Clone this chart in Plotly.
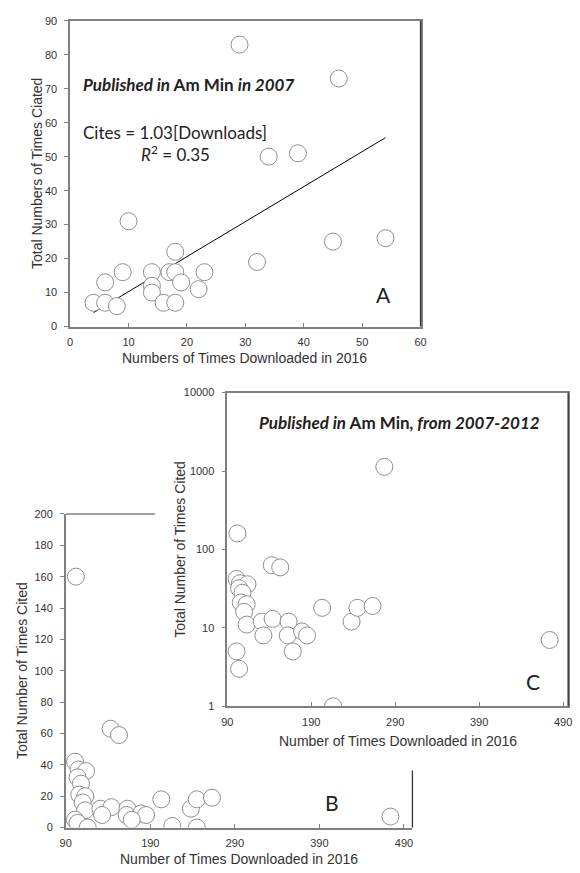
import plotly.graph_objects as go

# ---------- Data ----------
# Panel A: published in Am Min in 2007
dl_2007 = [29, 46, 34, 39, 10, 18, 32, 45, 54, 9, 14, 17, 18, 23, 6, 14, 14, 19, 22, 4, 6, 8, 16, 18]
cites_2007 = [83, 73, 50, 51, 31, 22, 19, 25, 26, 16, 16, 16, 16, 16, 13, 12, 10, 13, 11, 7, 7, 6, 7, 7]
trend_x = [4, 54]
trend_y = [4.1, 55.6]

# Panels B and C: published in Am Min 2007-2012 (downloads > 90)
dl_0712 = [102, 143, 153, 101, 105, 114, 104, 108, 106, 113, 110, 113, 131, 144, 133, 163, 162,
           179, 185, 168, 101, 104, 203, 238, 245, 263, 474, 216, 277, 116, 245]
cites_0712 = [160, 63, 59, 42, 37, 36, 32, 28, 21, 20, 16, 11, 12, 13, 8, 12, 8,
              9, 8, 5, 5, 3, 18, 12, 18, 19, 7, 1, 1130, 0, 0]

x_ticks_bc = [90, 190, 290, 390, 490]
y_ticks_c = [1, 10, 100, 1000, 10000]
y_ticktext_c = ["1", "10", "100", "1000", "10000"]

W, H = 580, 873
def px(x):
    return x / W
def py(y):
    return 1 - y / H

TICKFONT = dict(family="Liberation Sans, Arial", size=11, color="#333333")
SANS = "Liberation Sans, Arial"
TEXTFONT = "Lato, Open Sans, sans-serif"
AXCOL = "#808080"

marker = dict(size=17, color="white", line=dict(color="#8f8f8f", width=1))

fig = go.Figure()

# Panel A
fig.add_trace(go.Scatter(x=trend_x, y=trend_y, mode="lines", line=dict(color="black", width=1),
                         xaxis="x", yaxis="y", showlegend=False, hoverinfo="skip"))
fig.add_trace(go.Scatter(x=dl_2007, y=cites_2007, mode="markers", marker=marker,
                         xaxis="x", yaxis="y", showlegend=False))
# Panel B
fig.add_trace(go.Scatter(x=dl_0712, y=cites_0712, mode="markers", marker=marker,
                         xaxis="x2", yaxis="y2", showlegend=False))
# Panel C
fig.add_trace(go.Scatter(x=dl_0712, y=cites_0712, mode="markers", marker=marker,
                         xaxis="x3", yaxis="y3", showlegend=False))

common_x = dict(showgrid=False, zeroline=False, showline=True, linecolor=AXCOL, linewidth=1.5,
                ticks="inside", ticklen=4, tickcolor=AXCOL, tickfont=TICKFONT,
                ticklabelstandoff=5)
common_y = dict(showgrid=False, zeroline=False, showline=True, linecolor=AXCOL, linewidth=1.5,
                ticks="outside", ticklen=4, tickcolor=AXCOL, tickfont=TICKFONT,
                ticklabelstandoff=5)

fig.update_layout(
    width=W, height=H,
    margin=dict(l=0, r=0, t=0, b=0),
    paper_bgcolor="white", plot_bgcolor="white",
    xaxis=dict(domain=[px(65.5), px(423.3)], range=[0, 60], dtick=10, tick0=0,
               mirror=True, anchor="y", **common_x),
    yaxis=dict(domain=[py(325), py(15)], range=[0, 90], dtick=10, tick0=0,
               mirror=True, anchor="x", **common_y),
    xaxis2=dict(domain=[px(61), px(415)], range=[90, 500], tickvals=x_ticks_bc,
                anchor="y2", **common_x),
    yaxis2=dict(domain=[py(833), py(515)], range=[0, 200], dtick=20, tick0=0,
                anchor="x2", **common_y),
    xaxis3=dict(domain=[px(226), px(574)], range=[90, 496], tickvals=x_ticks_bc,
                mirror=True, anchor="y3", **common_x),
    yaxis3=dict(domain=[py(710), py(392)], type="log", range=[0, 4], tickvals=y_ticks_c,
                ticktext=y_ticktext_c, mirror=True, anchor="x3", **common_y),
)

# dark right borders of A and C
for xr, yr in (("x domain", "y domain"), ("x3 domain", "y3 domain")):
    fig.add_shape(type="line", xref=xr, yref=yr, x0=1, x1=1, y0=0, y1=1,
                  line=dict(color="#333333", width=1.3))
# partial frame of panel B (rest hidden behind panel C)
fig.add_shape(type="line", xref="x2 domain", yref="y2 domain", x0=0, x1=0.257, y0=1, y1=1,
              line=dict(color=AXCOL, width=1.5))
fig.add_shape(type="line", xref="x2 domain", yref="y2 domain", x0=1, x1=1, y0=0, y1=0.182,
              line=dict(color="#333333", width=1.3))

ann = []
def text(x, y, t, size, family=TEXTFONT, angle=0, color="#222222"):
    ann.append(dict(x=px(x), y=py(y), xref="paper", yref="paper", text=t, showarrow=False,
                    xanchor="center", yanchor="middle", textangle=angle,
                    font=dict(family=family, size=size, color=color)))

# Panel A texts
text(186.5, 80, "<b><i>Published in</i> Am Min <i>in 2007</i></b>", 17)
text(172.5, 128, "Cites = 1.03[Downloads]", 17)
text(173, 150, "<i>R</i><sup>2</sup> = 0.35", 17)
text(385, 293, "A", 21)
text(244, 357, "Numbers of Times Downloaded in 2016", 14, family=SANS, color="#333333")
text(31, 170, "Total Numbers of Times Ciated", 14, family=SANS, angle=-90, color="#333333")

# Panel B texts
text(333, 808, "B", 21)
text(238, 865, "Number of Times Downloaded in 2016", 14, family=SANS, color="#333333")
text(16.5, 674, "Total Number of Times Cited", 14, family=SANS, angle=-90, color="#333333")

# Panel C texts
text(402, 422, "<b><i>Published in</i> Am Min<i>, from 2007-2012</i></b>", 17)
text(537.7, 685, "C", 21)
text(400, 745, "Number of Times Downloaded in 2016", 14, family=SANS, color="#333333")
text(178, 551, "Total Number of Times Cited", 14, family=SANS, angle=-90, color="#333333")

fig.update_layout(annotations=ann)

fig.write_html("out.html", config={"displayModeBar": False},
               post_script="document.body.style.margin='0px';")
